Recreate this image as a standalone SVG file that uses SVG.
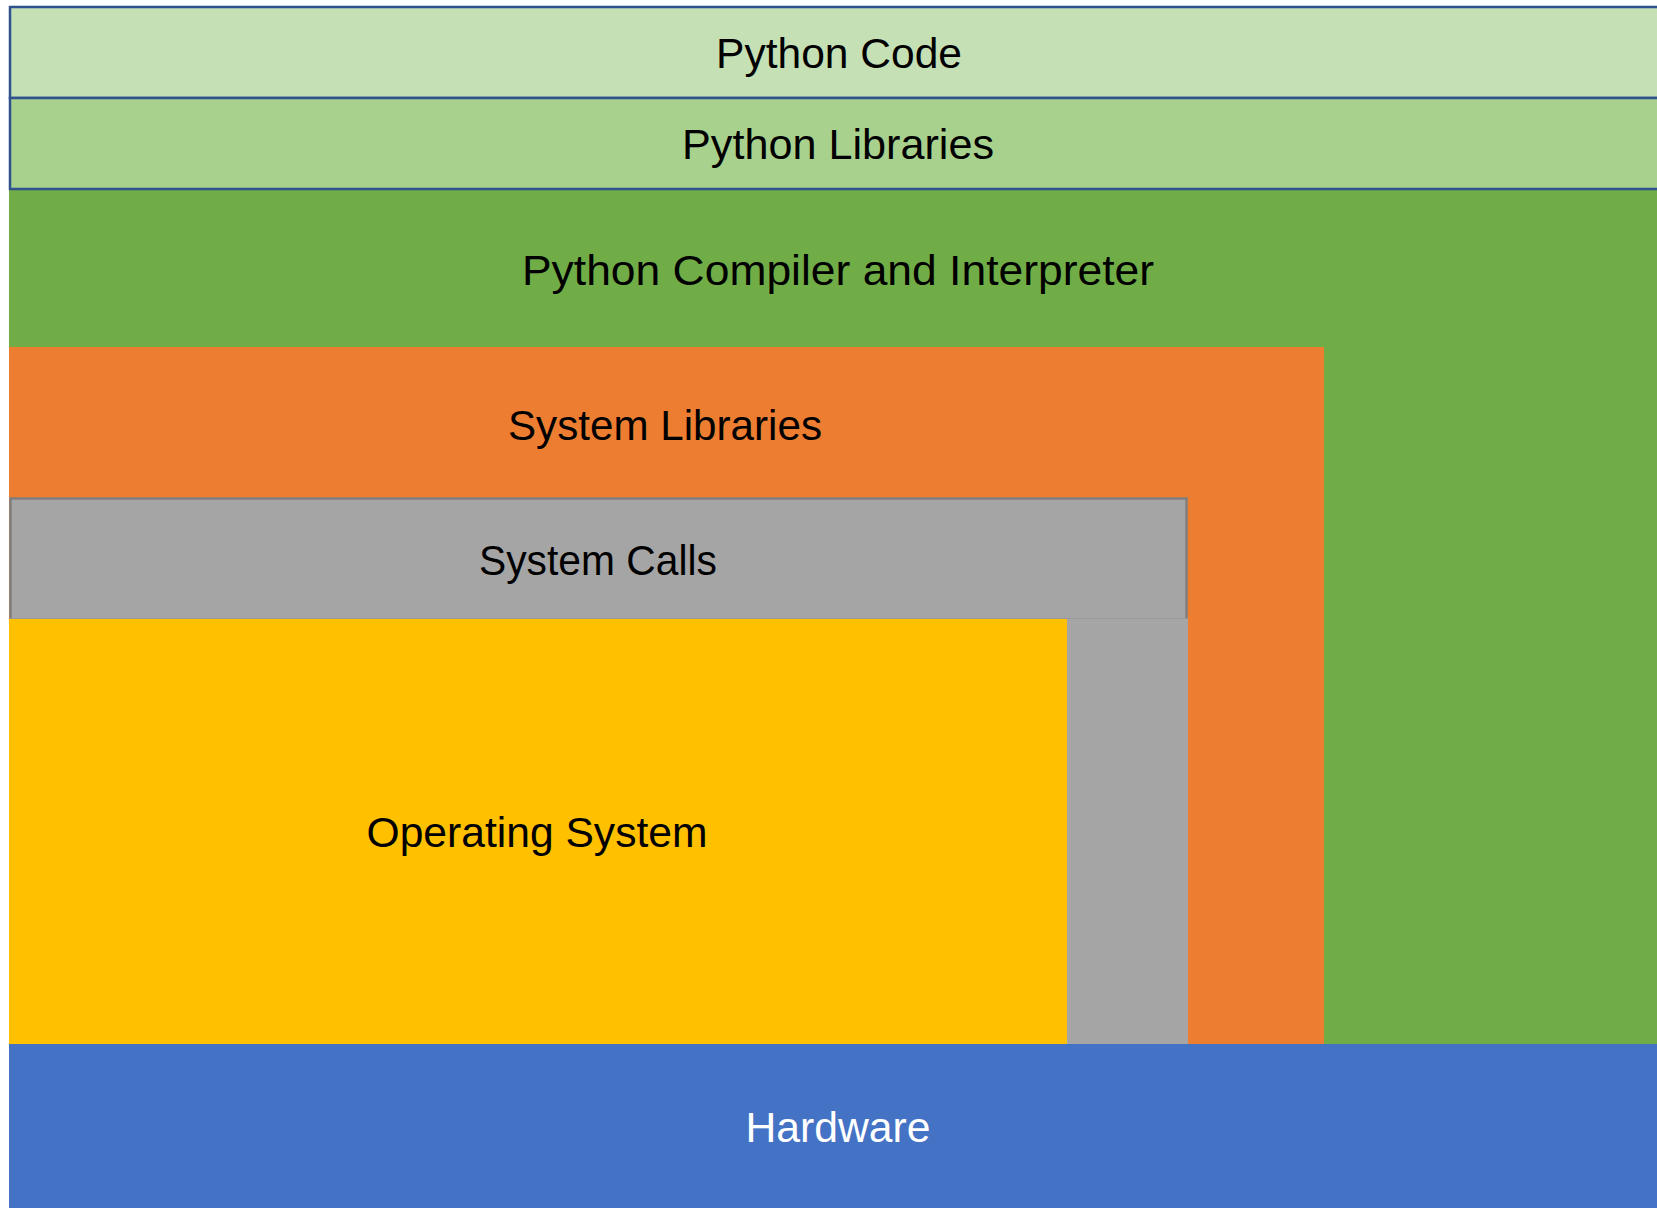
<svg xmlns="http://www.w3.org/2000/svg" width="1657" height="1208" viewBox="0 0 1657 1208">
<style>
text{font-family:"Liberation Sans",Arial,sans-serif;font-size:42px;text-anchor:middle;fill:#000}
.blue{stroke:#2F528F;stroke-width:2.5}
</style>
<rect width="1657" height="1208" fill="#fff"/>
<g id="hardware">
<rect x="9" y="1044" width="1660" height="170" fill="#4472C4"/>
<text x="838" y="1142" textLength="185" lengthAdjust="spacingAndGlyphs" style="fill:#fff">Hardware</text>
</g>
<g id="python-compiler">
<rect x="9" y="190" width="1660" height="854" fill="#70AD47"/>
<text x="838" y="285" textLength="632" lengthAdjust="spacingAndGlyphs">Python Compiler and Interpreter</text>
</g>
<g id="system-libraries">
<rect x="9" y="347" width="1315" height="697" fill="#ED7D31"/>
<text x="665" y="440" textLength="314" lengthAdjust="spacingAndGlyphs">System Libraries</text>
</g>
<g id="system-calls">
<rect x="1067" y="618" width="121" height="426" fill="#A5A5A5"/>
<rect x="10.5" y="498.5" width="1176" height="120" fill="#A5A5A5"/>
<path d="M10.5 618.5 V498.5 H1186.5 V618.5" fill="none" stroke="#7F7F7F" stroke-width="2.5"/>
<path d="M10.5 618.5 H1186.5" fill="none" stroke="#999" stroke-width="1"/>
<text x="598" y="575" textLength="238" lengthAdjust="spacingAndGlyphs">System Calls</text>
</g>
<g id="operating-system">
<rect x="9" y="619" width="1058" height="425" fill="#FFC000"/>
<text x="537" y="847" textLength="341" lengthAdjust="spacingAndGlyphs">Operating System</text>
</g>
<g id="python-code">
<rect x="10" y="7" width="1660" height="91" fill="#C5E0B4" class="blue"/>
<text x="839" y="68" textLength="246" lengthAdjust="spacingAndGlyphs">Python Code</text>
</g>
<g id="python-libraries">
<rect x="10" y="98" width="1660" height="91" fill="#A9D18E" class="blue"/>
<text x="838" y="159" textLength="312" lengthAdjust="spacingAndGlyphs">Python Libraries</text>
</g>
<g id="connectors"/>
</svg>
